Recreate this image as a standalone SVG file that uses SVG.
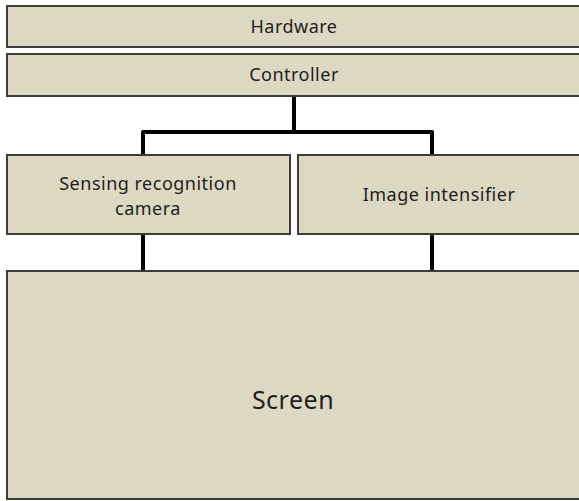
<svg xmlns="http://www.w3.org/2000/svg" width="579" height="501" viewBox="0 0 579 501">
<style>
.box{fill:#ddd8c2;stroke:#3c3c3c;stroke-width:2}
.t{font-family:"Noto Sans","Open Sans","DejaVu Sans",sans-serif;font-size:18px;letter-spacing:0.5px;fill:#1e1e1e;text-anchor:middle}
.big{font-size:25px}
.conn{fill:none;stroke:#000;stroke-width:4;stroke-linejoin:round}
</style>
<rect width="579" height="501" fill="#fff"/>
<g id="connectors">
<path class="conn" d="M294 96 V132"/>
<path class="conn" d="M143 154 V132 H432 V154"/>
<path class="conn" d="M143 234 V271"/>
<path class="conn" d="M432 234 V271"/>
</g>
<g id="hardware">
<rect class="box" x="7" y="6" width="580" height="41"/>
<text class="t" x="294" y="33">Hardware</text>
</g>
<g id="controller">
<rect class="box" x="7" y="54" width="580" height="42"/>
<text class="t" x="294" y="81">Controller</text>
</g>
<g id="sensing">
<rect class="box" x="7" y="155" width="283" height="79"/>
<text class="t" x="148" y="190">Sensing recognition</text>
<text class="t" x="148" y="215">camera</text>
</g>
<g id="image">
<rect class="box" x="298" y="155" width="290" height="79"/>
<text class="t" x="439" y="201">Image intensifier</text>
</g>
<g id="screen">
<rect class="box" x="7" y="271" width="580" height="228"/>
<text class="t big" x="293" y="409">Screen</text>
</g>
</svg>
